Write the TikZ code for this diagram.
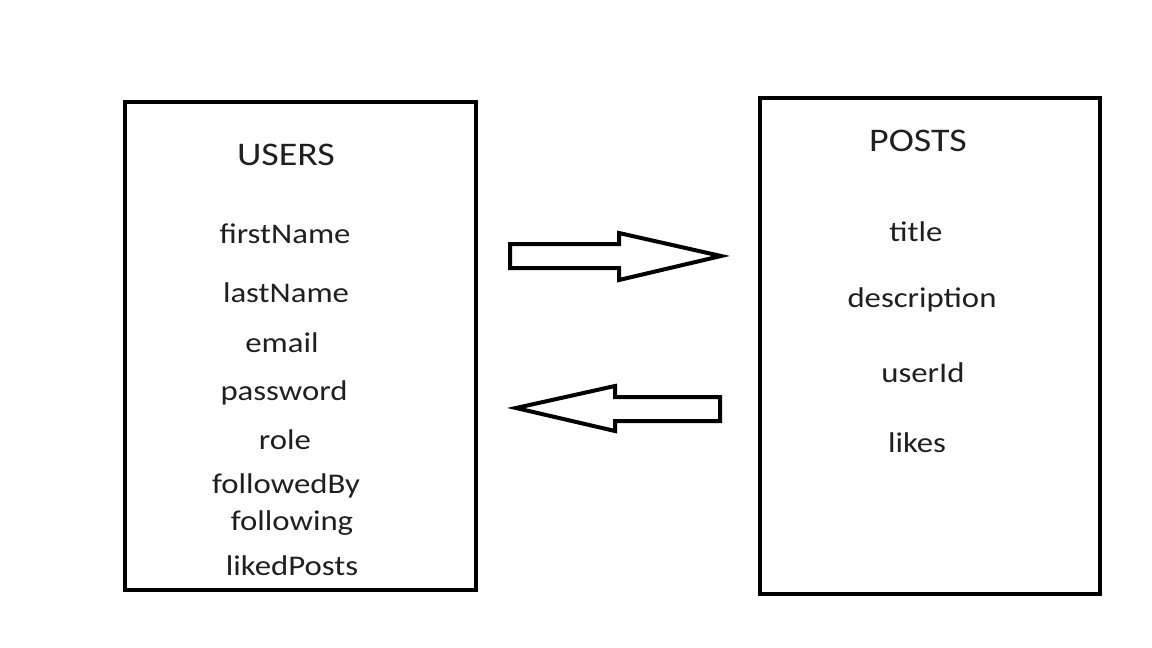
\documentclass[tikz,border=0pt]{standalone}
\usepackage{fontspec}
\setmainfont{Carlito}
\newfontfamily\widefont[FakeStretch=1.15]{Carlito}
\begin{document}
\begin{tikzpicture}[x=1pt,y=-1pt,
  entity/.style={draw=black,line width=4pt},
  head/.style={anchor=base,font=\widefont\fontsize{33}{38}\selectfont,text=black!88},
  field/.style={anchor=base,font=\widefont\fontsize{28.5}{34}\selectfont,text=black!88},
  blockarrow/.style={draw=black,line width=4pt,line join=miter,fill=white}]
\useasboundingbox (0,0) rectangle (1152,648);
% entity boxes
\draw[entity] (125,102) rectangle (476,590);
\draw[entity] (760,98) rectangle (1100,594);
% USERS fields
\node[head]  (users)  at (286,165) {USERS};
\node[field] (fn)     at (285,243) {firstName};
\node[field] (ln)     at (286,302) {lastName};
\node[field] (em)     at (282,352) {email};
\node[field] (pw)     at (284,400) {password};
\node[field] (ro)     at (285,449) {role};
\node[field] (fb)     at (286,493) {followedBy};
\node[field] (fo)     at (292,530) {following};
\node[field] (lp)     at (292,575) {likedPosts};
% POSTS fields
\node[head]  (posts)  at (918,151) {POSTS};
\node[field] (ti)     at (916,241) {title};
\node[field] (de)     at (922,307) {description};
\node[field] (ui)     at (923,382) {userId};
\node[field] (li)     at (917,452) {likes};
% block arrows between the tables
\draw[blockarrow] (510,244) -- (619,244) -- (619,233) -- (721,256) -- (619,280) -- (619,268) -- (510,268) -- cycle;
\draw[blockarrow] (720,397) -- (615,397) -- (615,386) -- (516,408) -- (615,431) -- (615,421) -- (720,421) -- cycle;
\end{tikzpicture}
\end{document}
